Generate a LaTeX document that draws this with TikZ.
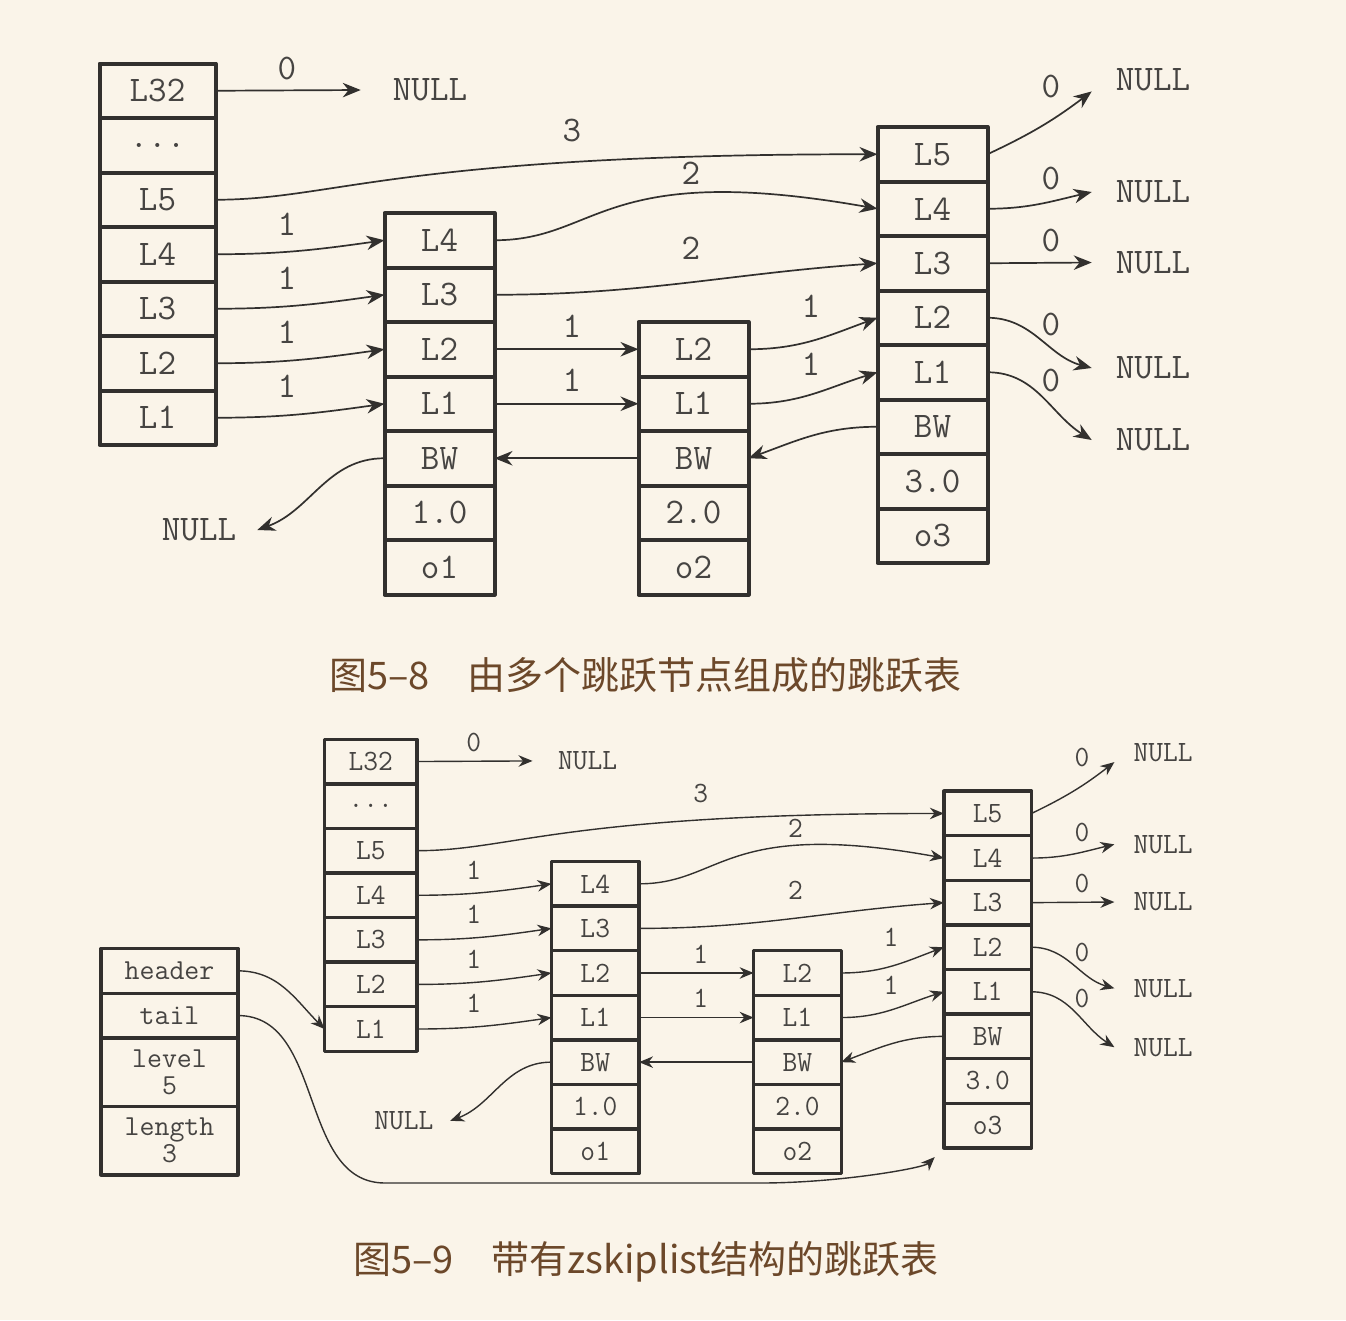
\documentclass[tikz,border=0pt]{standalone}
\usepackage{fontspec}
\newfontfamily\cjkfont{Noto Sans CJK SC}
\usetikzlibrary{arrows.meta}

\definecolor{paper}{RGB}{250,244,233}
\definecolor{ink}{RGB}{50,48,46}
\definecolor{lettering}{RGB}{70,68,66}
\definecolor{captionbrown}{RGB}{108,72,42}

\begin{document}
\begin{tikzpicture}[x=1pt, y=1pt, line cap=round, line join=round,
    cell/.style={draw=ink, rectangle, inner sep=0pt, outer sep=0pt,
      minimum height=54.5pt, text=lettering,
      font=\ttfamily\fontsize{36}{36}\selectfont},
    lbl/.style={inner sep=0pt, text=lettering,
      font=\ttfamily\fontsize{36}{36}\selectfont},
    nulltext/.style={lbl, inner xsep=24pt},
    field/.style={draw=ink, rectangle, line width=3.4pt, inner sep=0pt,
      outer sep=0pt, minimum width=137pt, align=center, text=lettering,
      font=\ttfamily\fontsize{29}{27}\selectfont},
    structlink/.style={draw=ink, line width=1.4pt,
      -{Stealth[length=14pt, width=11.5pt]}},
    caption/.style={text=captionbrown,
      font=\cjkfont\fontsize{38}{40}\selectfont}]

  % page is 1346 x 1320 px, one unit = one pixel, rows go down as -y
  \useasboundingbox (0,0) rectangle (1346,-1320);
  \fill[paper] (0,0) rectangle (1346,-1320);

  % Fig. 5-8 at full size (t), Fig. 5-9 is the same list shrunk (b)
  \foreach \pre/\sx/\sy/\xs/\ys/\bw/\lw/\al/\aw in
      {t/0/0/1/1/4/1.7/18/14.5, b/245.4/-687.3/0.796/0.818/3.4/1.4/14/11.5} {
    \begin{scope}[xshift=\sx pt, yshift=\sy pt, xscale=\xs, yscale=\ys,
        transform shape, cell/.append style={line width=\bw pt},
        link/.style={draw=ink, line width=\lw pt,
          -{Stealth[length=\al pt, width=\aw pt]}}]
      % columns: name / centre x / top edge / width / cells
      \foreach \col/\cx/\ty/\colw/\cells in
          {h/157.5/63.5/116/{L32/32,{.{}.{}.}/d,L5/5,L4/4,L3/3,L2/2,L1/1},
           a/439.5/213/110/{L4/4,L3/3,L2/2,L1/1,BW/bw,1.0/v,o1/o},
           b/693.5/322/110/{L2/2,L1/1,BW/bw,2.0/v,o2/o},
           c/932.5/127/110/{L5/5,L4/4,L3/3,L2/2,L1/1,BW/bw,3.0/v,o3/o}}
        \foreach \txt/\nm [count=\k] in \cells
          \node[cell, minimum width=\colw pt] (\pre-\col\nm)
            at (\cx, {-\ty-(\k-0.5)*54.5}) {\txt};

      % NULL ends
      \node[nulltext, inner xsep=32pt] (\pre-n32) at (430,-90) {NULL};
      \node[nulltext, inner xsep=21pt] (\pre-nbw) at (199,-530) {NULL};
      \foreach \nm/\ny in {5/80,4/192,3/262.5,2/368,1/440}
        \node[nulltext] (\pre-nr\nm) at (1153,-\ny) {NULL};

      % header levels
      \draw[link] (\pre-h32.east) -- (\pre-n32.west);
      \node[lbl] (\pre-w32) at (287,-68) {0};
      \draw[link] (\pre-h5.east) .. controls +(120,0) and +(-480,0) .. (\pre-c5.west);
      \node[lbl] (\pre-w5) at (572,-130) {3};
      \foreach \nm/\wy in {4/224,3/278,2/332,1/386} {
        \draw[link] (\pre-h\nm.east) to[out=0,in=188] (\pre-a\nm.west);
        \node[lbl] (\pre-wh\nm) at (287,-\wy) {1};
      }

      % o1 and o2 levels
      \draw[link] (\pre-a4.east) .. controls +(105,0) and +(-277,49) .. (\pre-c4.west);
      \node[lbl] (\pre-wa4) at (691,-173) {2};
      \draw[link] (\pre-a3.east) to[out=0,in=184] (\pre-c3.west);
      \node[lbl] (\pre-wa3) at (691,-248) {2};
      \draw[link] (\pre-a2.east) -- (\pre-b2.west);
      \node[lbl] (\pre-wa2) at (572,-326) {1};
      \draw[link] (\pre-a1.east) -- (\pre-b1.west);
      \node[lbl] (\pre-wa1) at (572,-380) {1};
      \draw[link] (\pre-b2.east) to[out=0,in=200] (\pre-c2.west);
      \node[lbl] (\pre-wb2) at (811,-306) {1};
      \draw[link] (\pre-b1.east) to[out=0,in=197] (\pre-c1.west);
      \node[lbl] (\pre-wb1) at (811,-364) {1};

      % backward pointers
      \draw[link] (\pre-cbw.west) to[out=180,in=20] (\pre-bbw.east);
      \draw[link] (\pre-bbw.west) -- (\pre-abw.east);
      \draw[link] (\pre-abw.west) to[out=180,in=20] (\pre-nbw.east);

      % o3 levels end in NULL
      \draw[link] (\pre-c5.east) to[bend right=6] (\pre-nr5.south west);
      \draw[link] (\pre-c4.east) to[out=0,in=193] (\pre-nr4.west);
      \draw[link] (\pre-c3.east) -- (\pre-nr3.west);
      \draw[link] (\pre-c2.east) to[out=0,in=165] (\pre-nr2.west);
      \draw[link] (\pre-c1.east) to[out=0,in=148] (\pre-nr1.west);
      \foreach \nm/\wy in {5/86,4/178,3/240,2/324,1/380}
        \node[lbl] (\pre-wc\nm) at (1051,-\wy) {0};
    \end{scope}
  }

  % zskiplist structure of Fig. 5-9
  \node[field, minimum height=44.7pt] (sl-header) at (169.5,-970.85) {header};
  \node[field, minimum height=44.7pt] (sl-tail) at (169.5,-1015.55) {tail};
  \node[field, minimum height=68.5pt] (sl-level) at (169.5,-1072.15) {level\\5};
  \node[field, minimum height=68.5pt] (sl-length) at (169.5,-1140.65) {length\\3};

  \coordinate (tail-a) at (385,-1183);
  \coordinate (tail-b) at (760,-1183);
  \draw[structlink] (sl-header.east) to[out=0,in=135] (b-h1.west);
  \draw[structlink, shorten >=13pt] (sl-tail.east) to[out=0,in=180] (tail-a)
    -- (tail-b) .. controls +(80,0) and +(-20,-20) .. (b-co.south west);

  % captions
  \node[caption] (cap-a) at (645.5,-675) {图5–8\quad 由多个跳跃节点组成的跳跃表};
  \node[caption] (cap-b) at (646,-1262) {图5–9\quad 带有zskiplist结构的跳跃表};
\end{tikzpicture}
\end{document}
